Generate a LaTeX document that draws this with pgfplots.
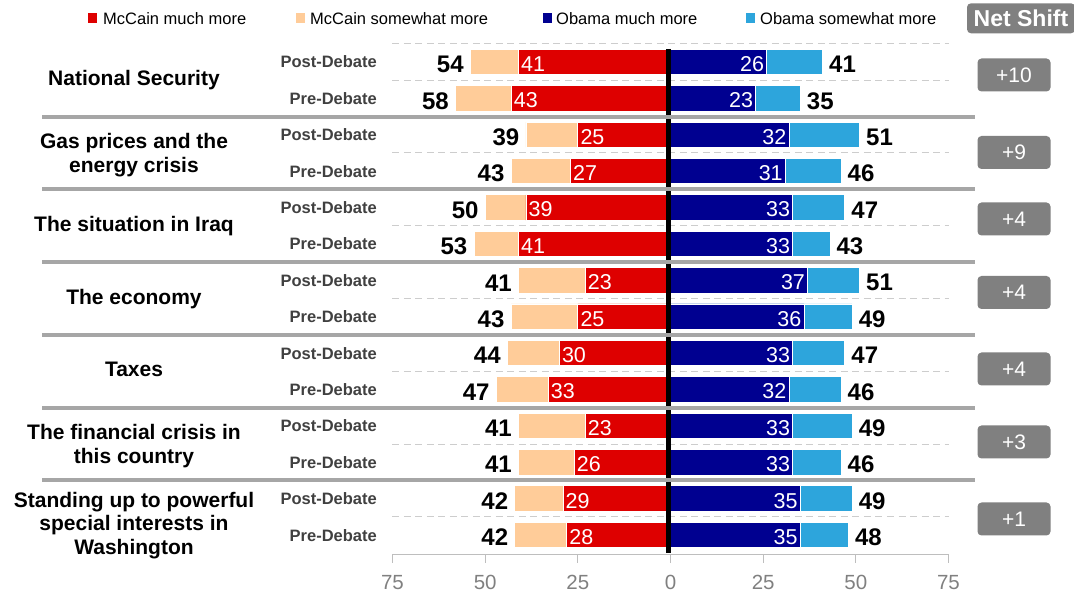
\documentclass[border=0pt]{standalone}
\usepackage{pgfplots}
\pgfplotsset{compat=1.18}
\usepackage{fontspec}
\setmainfont{Liberation Sans}
\definecolor{mred}{RGB}{222,0,0}
\definecolor{mor}{RGB}{255,204,153}
\definecolor{onavy}{RGB}{0,0,144}
\definecolor{oblue}{RGB}{45,165,220}
\definecolor{sepgray}{RGB}{166,166,166}
\definecolor{dashgray}{RGB}{205,205,205}
\definecolor{boxgray}{RGB}{128,128,128}
\definecolor{lblgray}{RGB}{64,64,64}
\definecolor{tickgray}{RGB}{128,128,128}
\definecolor{axgray}{RGB}{190,190,190}
\newcommand{\fs}[1]{\fontsize{#1}{#1}\selectfont}
\begin{document}
\begin{tikzpicture}[x=1pt,y=1pt]
\begin{axis}[
  scale only axis, width=556pt, height=511.2pt,
  xmin=-75, xmax=75, ymin=-13.55, ymax=0.5,
  axis x line*=bottom, axis y line=none,
  x axis line style={axgray, line width=1pt, -},
  xtick={-75,-50,-25,0,25,50,75},
  xticklabels={75,50,25,0,25,50,75},
  x tick style={axgray, line width=1pt},
  tick align=outside, major tick length=8pt,
  x tick label style={font=\fs{20.5}, text=tickgray, yshift=-9pt},
  /pgf/number format/assume math mode=true,
  ytick=\empty,
  clip=false,
  xbar, bar width=0.7, bar shift=0pt,
  point meta=explicit symbolic,
]
\coordinate (O) at (axis cs:-75,-13.55);
% dashed row separators
\pgfplotsinvokeforeach{0.5,-0.5,-2.5,-4.5,-6.5,-8.5,-10.5,-12.5}{
  \draw[dashgray, line width=1pt, dash pattern=on 7pt off 4.5pt] (axis cs:-75,#1) -- (axis cs:75,#1);
}
% McCain total (much + somewhat)
\addplot[fill=mor, draw=white, line width=0.75pt, nodes near coords,
  every node near coord/.append style={font=\bfseries\fs{24}, text=black, anchor=east, xshift=-3pt, yshift=-2.5pt}]
 coordinates {(-54,0)[54] (-58,-1)[58] (-39,-2)[39] (-43,-3)[43] (-50,-4)[50] (-53,-5)[53] (-41,-6)[41] (-43,-7)[43] (-44,-8)[44] (-47,-9)[47] (-41,-10)[41] (-41,-11)[41] (-42,-12)[42] (-42,-13)[42]};
% McCain much more
\addplot[fill=mred, draw=white, line width=0.75pt, nodes near coords,
  every node near coord/.append style={font=\fs{21.5}, text=white, anchor=west, xshift=-1pt, yshift=-2pt}]
 coordinates {(-41,0)[41] (-43,-1)[43] (-25,-2)[25] (-27,-3)[27] (-39,-4)[39] (-41,-5)[41] (-23,-6)[23] (-25,-7)[25] (-30,-8)[30] (-33,-9)[33] (-23,-10)[23] (-26,-11)[26] (-29,-12)[29] (-28,-13)[28]};
% Obama total
\addplot[fill=oblue, draw=white, line width=0.75pt, nodes near coords,
  every node near coord/.append style={font=\bfseries\fs{24}, text=black, anchor=west, xshift=3pt, yshift=-2.5pt}]
 coordinates {(41,0)[41] (35,-1)[35] (51,-2)[51] (46,-3)[46] (47,-4)[47] (43,-5)[43] (51,-6)[51] (49,-7)[49] (47,-8)[47] (46,-9)[46] (49,-10)[49] (46,-11)[46] (49,-12)[49] (48,-13)[48]};
% Obama much more
\addplot[fill=onavy, draw=white, line width=0.75pt, nodes near coords,
  every node near coord/.append style={font=\fs{21.5}, text=white, anchor=east, xshift=1pt, yshift=-2pt}]
 coordinates {(26,0)[26] (23,-1)[23] (32,-2)[32] (31,-3)[31] (33,-4)[33] (33,-5)[33] (37,-6)[37] (36,-7)[36] (33,-8)[33] (32,-9)[32] (33,-10)[33] (33,-11)[33] (35,-12)[35] (35,-13)[35]};
% zero line
\draw[black, line width=5pt] ([xshift=-1.5pt]axis cs:0,0.36) -- ([xshift=-1.5pt]axis cs:0,-13.5);
% group separators
\pgfplotsinvokeforeach{-1.5,-3.5,-5.5,-7.5,-9.5,-11.5}{
  \draw[sepgray, line width=4pt] (axis cs:-169.5,#1) -- (axis cs:82.1,#1);
}
\end{axis}
\begin{scope}[shift={(O)}, xshift=-392.5pt, yshift=-39pt]
% legend
\fill[mred] (88,571.3) rectangle (97,580.7);
\node[anchor=base west, inner sep=0, font=\fs{16.5}] at (103,569) {McCain much more};
\fill[mor] (296,571.3) rectangle (305,580.7);
\node[anchor=base west, inner sep=0, font=\fs{16.5}] at (310,569) {McCain somewhat more};
\fill[onavy] (543,571.3) rectangle (552,580.7);
\node[anchor=base west, inner sep=0, font=\fs{16.5}] at (556,569) {Obama much more};
\fill[oblue] (746,571.3) rectangle (755,580.7);
\node[anchor=base west, inner sep=0, font=\fs{16.5}] at (760,569) {Obama somewhat more};
% Net Shift header
\node[fill=boxgray, rounded corners=4pt, minimum width=108pt, minimum height=30pt, inner sep=0, text=white, font=\bfseries\fs{23}] at (1021,575.7) {Net Shift};
% Post/Pre labels
\foreach \r in {0,2,...,12} {
  \node[anchor=base east, inner sep=0, font=\bfseries\fs{16.5}, text=lblgray] at (377,{594-(62+36.4*\r+6)}) {Post-Debate};
  \node[anchor=base east, inner sep=0, font=\bfseries\fs{16.5}, text=lblgray] at (377,{594-(62+36.4*(\r+1)+6)}) {Pre-Debate};
}
% category labels
\tikzset{cat/.style={anchor=north, inner sep=0, align=center, font=\bfseries\fontsize{21}{23.5}\selectfont}}
\node[cat] at (134,{594-70}) {National Security};
\node[cat] at (134,{594-133.3}) {Gas prices and the\\energy crisis};
\node[cat] at (134,{594-215.8}) {The situation in Iraq};
\node[cat] at (134,{594-288.6}) {The economy};
\node[cat] at (134,{594-361.4}) {Taxes};
\node[cat] at (134,{594-424.5}) {The financial crisis in\\this country};
\node[cat] at (134,{594-491.7}) {Standing up to powerful\\special interests in\\Washington};
% net shift boxes
\foreach \yy/\t in {75/+10, 152.5/+9, 219/+4, 292.5/+4, 369/+4, 442/+3, 519/+1}
  \node[fill=boxgray, rounded corners=4pt, minimum width=73pt, minimum height=33pt, inner sep=0, text=white, font=\fs{21}] at (1014,{594-\yy}) {\t};
\pgfresetboundingbox
\useasboundingbox (0,0) rectangle (1074,594);
\end{scope}
\end{tikzpicture}
\end{document}
